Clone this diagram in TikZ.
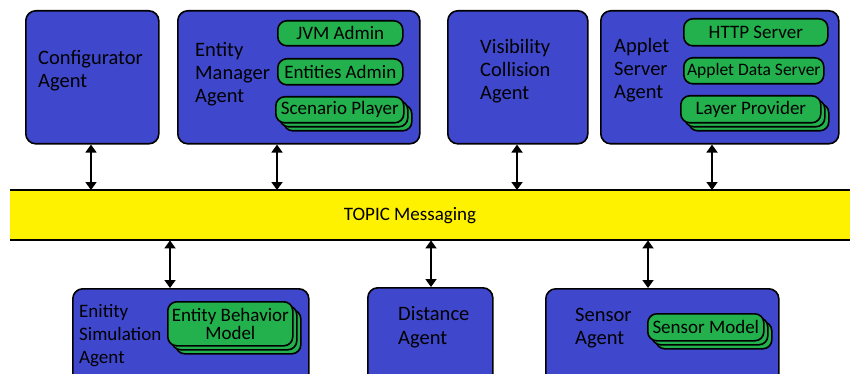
\documentclass[tikz,border=0pt]{standalone}
\usepackage{fontspec}
\setmainfont{Carlito}
\usetikzlibrary{arrows.meta}
\definecolor{agblue}{HTML}{3F48CC}
\definecolor{mgreen}{HTML}{22B14C}
\definecolor{topicyellow}{HTML}{FFF200}
\tikzset{
  x=1pt,y=-1pt,
  agent/.style={draw=black,line width=1.6pt,fill=agblue,rounded corners=10pt,anchor=north west,inner sep=0pt},
  mod/.style={draw=black,line width=1.6pt,fill=mgreen,rounded corners=9pt,anchor=north west,inner sep=0pt,font=\fontsize{19}{19}\selectfont,align=center},
  lbl/.style={anchor=base west,align=left,inner sep=0pt,font=\fontsize{20.5}{23.3}\selectfont},
  dbl/.style={line width=1.8pt,{Triangle[length=8pt,width=11pt]}-{Triangle[length=8pt,width=11pt]}},
}
\newcommand{\stackmod}[6]{%
  % name, x, y, w, h, text
  \node[mod,minimum width=#4pt,minimum height=#5pt] (#1c) at (#2+8,#3+8) {};
  \node[mod,minimum width=#4pt,minimum height=#5pt] (#1b) at (#2+4,#3+4) {};
  \node[mod,minimum width=#4pt,minimum height=#5pt] (#1) at (#2,#3) {#6};
}
\begin{document}
\begin{tikzpicture}
\useasboundingbox (0,0) rectangle (850,374);
% agents top
\node[agent,minimum width=133pt,minimum height=133pt] (conf) at (25,10) {};
\node[agent,minimum width=242pt,minimum height=133pt] (em) at (177,10) {};
\node[agent,minimum width=140pt,minimum height=133pt] (vis) at (447,10) {};
\node[agent,minimum width=238pt,minimum height=133pt] (app) at (600,10) {};
% agents bottom
\node[agent,minimum width=236pt,minimum height=100pt] (sim) at (72,288) {};
\node[agent,minimum width=125pt,minimum height=100pt] (dist) at (367,287) {};
\node[agent,minimum width=233pt,minimum height=100pt] (sens) at (545,288) {};
% labels (anchor = baseline of last line)
\node[lbl] (confl) at (38,88) {Configurator\\Agent};
\node[lbl] (eml) at (195,103) {Entity\\Manager\\Agent};
\node[lbl] (visl) at (480,100) {Visibility\\Collision\\Agent};
\node[lbl] (appl) at (614,99) {Applet\\Server\\Agent};
\node[lbl,font=\fontsize{19}{23}\selectfont] (siml) at (79,363) {Enitity\\Simulation\\Agent};
\node[lbl,font=\fontsize{20.5}{24}\selectfont] (distl) at (398,344) {Distance\\Agent};
\node[lbl,font=\fontsize{20.5}{22.5}\selectfont] (sensl) at (575,344) {Sensor\\Agent};
% modules
\node[mod,minimum width=125pt,minimum height=25pt] (jvm) at (277,20) {JVM Admin};
\node[mod,minimum width=125pt,minimum height=26pt] (ent) at (277,58) {Entities Admin};
\stackmod{scen}{275}{96}{128}{26}{Scenario Player}
\node[mod,minimum width=144pt,minimum height=27pt] (http) at (683,18) {HTTP Server};
\node[mod,minimum width=140pt,minimum height=26pt,font=\fontsize{17.5}{19}\selectfont] (ads) at (683,57) {Applet Data Server};
\stackmod{lay}{680}{95}{140}{27}{Layer Provider}
\stackmod{ebm}{167}{301}{125}{44}{Entity Behavior\\[-1pt]Model}
\stackmod{sm}{647}{313}{116}{27}{Sensor Model}
% bar
\fill[topicyellow] (10,190) rectangle (850,240);
\node[inner sep=0pt,minimum width=840pt,minimum height=50pt,anchor=north west] (bar) at (10,190) {};
\draw[line width=2pt] (bar.north west) -- (bar.north east);
\draw[line width=2pt] (bar.south west) -- (bar.south east);
\node[font=\fontsize{19}{19}\selectfont,inner sep=0pt,anchor=base] (topic) at (410,220) {TOPIC Messaging};
% arrow positions
\coordinate (a1) at (91,0);
\coordinate (a2) at (277,0);
\coordinate (a3) at (517,0);
\coordinate (a4) at (712,0);
\coordinate (b1) at (170,0);
\coordinate (b2) at (431,0);
\coordinate (b3) at (648,0);
\draw[dbl] (conf.south -| a1) -- (bar.north -| a1);
\draw[dbl] (em.south -| a2) -- (bar.north -| a2);
\draw[dbl] (vis.south -| a3) -- (bar.north -| a3);
\draw[dbl] (app.south -| a4) -- (bar.north -| a4);
\draw[dbl] (bar.south -| b1) -- (sim.north -| b1);
\draw[dbl] (bar.south -| b2) -- (dist.north -| b2);
\draw[dbl] (bar.south -| b3) -- (sens.north -| b3);
\end{tikzpicture}
\end{document}
